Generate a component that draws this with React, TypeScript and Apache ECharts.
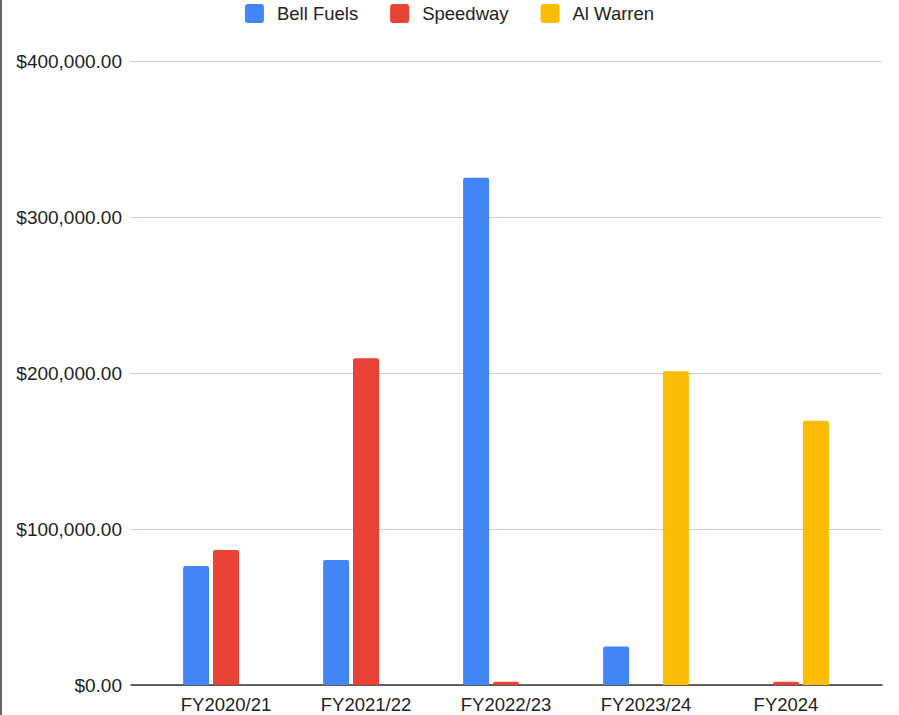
import React, { useEffect, useRef } from "react";
import * as echarts from "echarts";

const categories = ["FY2020/21", "FY2021/22", "FY2022/23", "FY2023/24", "FY2024"];
const bellFuels = [76300, 80100, 325200, 24600, null];
const speedway = [86500, 209400, 2100, null, 2100];
const alWarren = [null, null, null, 201100, 169400];
const yTicks = { min: 0, max: 400000, interval: 100000 };

const FONT = "Arial, 'Liberation Sans', sans-serif";
const SQUARE =
  "path://M3,0 H16 A3,3 0 0 1 19,3 V16 A3,3 0 0 1 16,19 H3 A3,3 0 0 1 0,16 V3 A3,3 0 0 1 3,0 Z";

export default function App() {
  const ref = useRef<HTMLDivElement>(null);
  useEffect(() => {
    document.body.style.margin = "0";
    const chart = echarts.init(ref.current!, null, { renderer: "svg" });
    const fmt = (v: number) =>
      "$" + v.toLocaleString("en-US", { minimumFractionDigits: 2, maximumFractionDigits: 2 });
    const barStyle = (color: string) => ({ color, borderRadius: [2, 2, 0, 0] });
    chart.setOption({
      animation: false,
      backgroundColor: "#ffffff",
      textStyle: { fontFamily: FONT },
      legend: {
        top: -1,
        left: "center",
        itemWidth: 19,
        itemHeight: 19,
        itemGap: 32,
        icon: SQUARE,
        textStyle: { fontSize: 18.5, color: "#222", fontFamily: FONT, padding: [0, 0, 0, 8] },
        data: ["Bell Fuels", "Speedway", "Al Warren"],
      },
      grid: [
        { left: 131, top: 61, width: 751, height: 624 },
        { left: 156, top: 61, width: 700, height: 624 },
      ],
      xAxis: [
        {
          gridIndex: 0,
          type: "category",
          data: [""],
          axisLine: { show: true, lineStyle: { color: "#333", width: 1.5 } },
          axisTick: { show: false },
          axisLabel: { show: false },
        },
        {
          gridIndex: 1,
          type: "category",
          data: categories,
          axisLine: { show: false },
          axisTick: { show: false },
          axisLabel: { fontSize: 18.5, color: "#222", margin: 10, fontFamily: FONT },
        },
      ],
      yAxis: [
        {
          gridIndex: 0,
          type: "value",
          ...yTicks,
          axisLine: { show: false },
          axisTick: { show: false },
          axisLabel: { fontSize: 19, color: "#222", margin: 9, formatter: fmt, fontFamily: FONT },
          splitLine: { lineStyle: { color: "#cccccc", width: 1 } },
        },
        {
          gridIndex: 1,
          type: "value",
          ...yTicks,
          show: false,
          splitLine: { show: false },
        },
      ],
      series: [
        {
          name: "Bell Fuels",
          type: "bar",
          xAxisIndex: 1,
          yAxisIndex: 1,
          data: bellFuels,
          barWidth: 26,
          barGap: "15%",
          itemStyle: barStyle("#4285F4"),
        },
        {
          name: "Speedway",
          type: "bar",
          xAxisIndex: 1,
          yAxisIndex: 1,
          data: speedway,
          barWidth: 26,
          barGap: "15%",
          itemStyle: barStyle("#EA4335"),
        },
        {
          name: "Al Warren",
          type: "bar",
          xAxisIndex: 1,
          yAxisIndex: 1,
          data: alWarren,
          barWidth: 26,
          barGap: "15%",
          itemStyle: barStyle("#FBBC04"),
        },
      ],
      graphic: [
        {
          type: "rect",
          left: 0,
          top: 0,
          shape: { x: 0, y: 0, width: 2, height: 715 },
          style: { fill: "#666666" },
        },
      ],
    });
    return () => chart.dispose();
  }, []);
  return (
    <div
      ref={ref}
      style={{ position: "absolute", left: 0, top: 0, width: 899, height: 715 }}
    />
  );
}
